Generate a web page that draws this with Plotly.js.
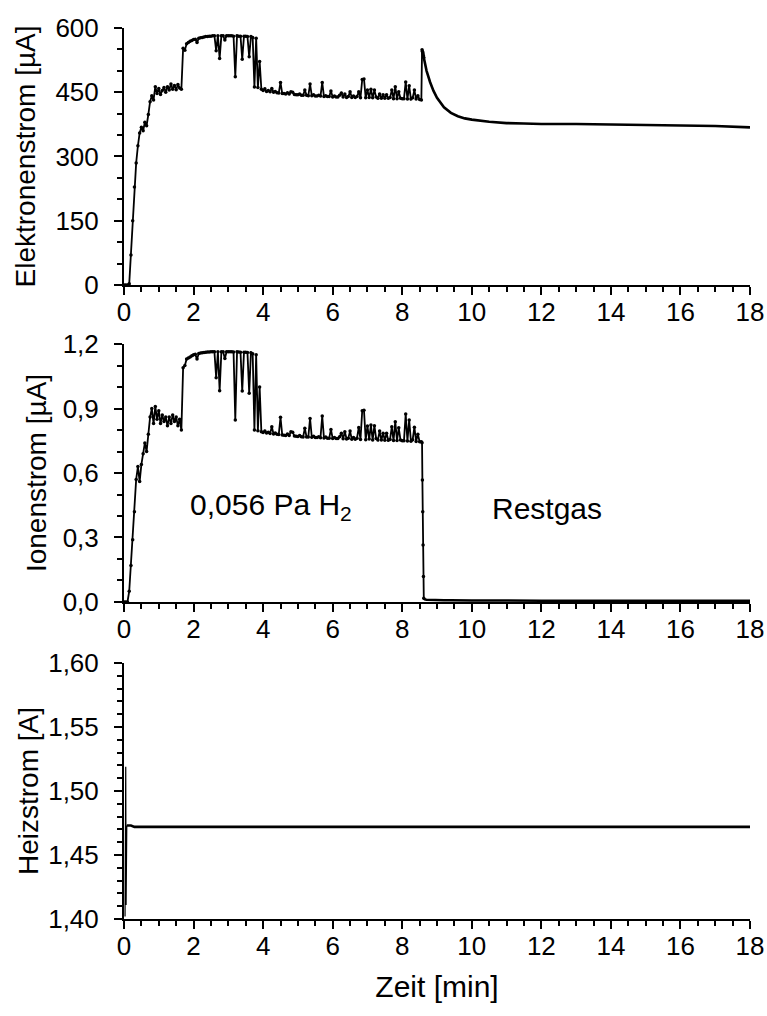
<!DOCTYPE html>
<html>
<head>
<meta charset="utf-8">
<script src="https://cdn.plot.ly/plotly-3.0.1.min.js"></script>
<style>body{margin:0;padding:0;background:#fff;} #chart{width:767px;height:1016px;}</style>
</head>
<body>
<div id="chart"></div>
<script>
// Zeit [min] (shared by Elektronenstrom and Ionenstrom)
const zeit = [
 0.00,0.05,0.10,0.15,0.20,0.25,0.30,0.35,0.40,0.45,0.50,0.55,0.60,0.65,0.70,0.75,0.80,0.85,0.90,0.95,
 1.00,1.05,1.10,1.15,1.20,1.25,1.30,1.35,1.40,1.45,1.50,1.55,1.60,1.65,1.70,1.75,1.80,1.85,1.90,1.95,
 2.00,2.05,2.10,2.15,2.20,2.25,2.30,2.35,2.40,2.45,2.50,2.55,2.60,2.65,2.70,2.75,2.80,2.85,2.90,2.95,
 3.00,3.05,3.10,3.15,3.20,3.25,3.30,3.35,3.40,3.45,3.50,3.55,3.60,3.65,3.70,3.75,3.80,3.85,3.90,3.95,
 4.00,4.05,4.10,4.15,4.20,4.25,4.30,4.35,4.40,4.45,4.50,4.55,4.60,4.65,4.70,4.75,4.80,4.85,4.90,4.95,
 5.00,5.05,5.10,5.15,5.20,5.25,5.30,5.35,5.40,5.45,5.50,5.55,5.60,5.65,5.70,5.75,5.80,5.85,5.90,5.95,
 6.00,6.05,6.10,6.15,6.20,6.25,6.30,6.35,6.40,6.45,6.50,6.55,6.60,6.65,6.70,6.75,6.80,6.85,6.90,6.95,
 7.00,7.05,7.10,7.15,7.20,7.25,7.30,7.35,7.40,7.45,7.50,7.55,7.60,7.65,7.70,7.75,7.80,7.85,7.90,7.95,
 8.00,8.05,8.10,8.15,8.20,8.25,8.30,8.35,8.40,8.45,8.50,8.55,
 8.57,8.58,8.59,8.60,8.61,8.62,8.65,8.70,8.80,8.90,9.00,9.20,9.40,9.60,9.80,
 10.0,10.5,11.0,11.5,12.0,13.0,14.0,15.0,16.0,17.0,18.0
];

// Elektronenstrom [µA]
const elektronenstrom = [
 0,0,0,3,70,150,229,285,325,355,368,360,380,372,398,428,442,432,463,447,
 459,445,454,461,450,463,455,469,457,466,456,468,460,457,553,548,563,566,569,571,
 573,574,566,576,577,578,579,580,580,581,581,582,582,547,582,529,582,582,572,582,
 582,582,582,581,486,582,581,581,527,581,581,580,533,580,578,462,576,461,522,457,
 454,458,452,454,451,459,450,452,449,448,473,447,447,446,449,446,451,450,445,444,
 444,446,443,443,455,443,442,469,442,444,441,441,443,441,473,440,442,440,440,453,
 439,441,439,439,443,448,439,446,438,440,451,438,441,438,440,451,437,480,481,437,
 455,438,457,437,455,439,436,446,436,444,436,444,436,438,455,435,463,435,451,436,
 435,435,474,434,465,434,437,455,434,442,433,432,
 549,546,543,539,535,531,518,500,474,453,437,415,402,394,389,
 386,381,378,377,376,376,375,374,373,371,368
];

// Ionenstrom [µA]
const ionenstrom = [
 0,0,0,0.05,0.17,0.29,0.42,0.57,0.63,0.56,0.64,0.69,0.74,0.70,0.78,0.86,0.90,0.83,0.91,0.85,
 0.89,0.83,0.87,0.84,0.86,0.82,0.86,0.83,0.87,0.84,0.86,0.82,0.85,0.80,1.09,1.10,1.13,1.135,1.14,1.145,
 1.15,1.152,1.13,1.156,1.158,1.16,1.161,1.162,1.163,1.163,1.164,1.164,1.164,1.043,1.164,0.983,1.164,1.164,1.133,1.164,
 1.164,1.164,1.164,1.163,0.847,1.164,1.163,1.162,0.981,1.162,1.162,1.161,0.971,1.16,1.155,0.80,1.15,0.797,1.00,0.792,
 0.788,0.796,0.786,0.79,0.784,0.815,0.782,0.786,0.78,0.779,0.859,0.777,0.776,0.775,0.781,0.774,0.792,0.79,0.772,0.771,
 0.770,0.775,0.769,0.768,0.808,0.767,0.767,0.854,0.766,0.771,0.765,0.765,0.769,0.764,0.865,0.763,0.767,0.762,0.762,0.803,
 0.761,0.765,0.760,0.760,0.769,0.785,0.759,0.792,0.758,0.762,0.795,0.757,0.765,0.757,0.762,0.812,0.756,0.890,0.892,0.755,
 0.819,0.758,0.823,0.754,0.82,0.76,0.753,0.795,0.753,0.785,0.752,0.785,0.752,0.756,0.815,0.751,0.839,0.751,0.81,0.754,
 0.750,0.750,0.874,0.749,0.847,0.748,0.755,0.813,0.747,0.78,0.746,0.745,
 0.741,0.567,0.42,0.265,0.118,0.017,0.012,0.010,0.009,0.009,0.008,0.008,0.008,0.007,0.007,
 0.007,0.007,0.006,0.006,0.006,0.006,0.006,0.006,0.006,0.006,0.006
];

// Heizstrom [A]
const zeitHeiz = [0.03,0.05,0.06,0.08,0.20,0.30,2,4,6,8,10,12,14,16,18];
const heizstrom = [1.402,1.519,1.411,1.473,1.473,1.472,1.472,1.472,1.472,1.472,1.472,1.472,1.472,1.472,1.472];

// Tick settings
const xTicks = [0,2,4,6,8,10,12,14,16,18];
const yTicks1 = [0,150,300,450,600];
const yTicks2 = [0,0.3,0.6,0.9,1.2];
const yTicks3 = [1.40,1.45,1.50,1.55,1.60];

// the measured part (with visible points) ends where the ion current has dropped
const cut = zeit.indexOf(8.62);
const dense = {mode:'lines+markers', line:{color:'black', width:1.8}, marker:{color:'black', size:3.5, opacity:1, line:{width:0}}};
const smooth = {mode:'lines', line:{color:'black', width:2.6}};

const traces = [
  Object.assign({x: zeit.slice(0, cut+1), y: elektronenstrom.slice(0, cut+1), xaxis:'x', yaxis:'y'}, dense),
  Object.assign({x: zeit.slice(cut), y: elektronenstrom.slice(cut), xaxis:'x', yaxis:'y'}, smooth),
  Object.assign({x: zeit.slice(0, cut+1), y: ionenstrom.slice(0, cut+1), xaxis:'x2', yaxis:'y2'}, dense),
  Object.assign({x: zeit.slice(cut), y: ionenstrom.slice(cut), xaxis:'x2', yaxis:'y2'}, smooth),
  {x: zeitHeiz.slice(0,4), y: heizstrom.slice(0,4), xaxis:'x3', yaxis:'y3', mode:'lines', line:{color:'black', width:1.2}},
  {x: zeitHeiz.slice(3), y: heizstrom.slice(3), xaxis:'x3', yaxis:'y3', mode:'lines', line:{color:'black', width:2.6}}
];

const fontFam = '"Liberation Sans", Arial, Helvetica, sans-serif';
const tickFont = {family: fontFam, size: 26, color:'black'};
const titleFont = {family: fontFam, size: 28, color:'black'};

function xAx(anchor, extra) {
  return Object.assign({
    anchor: anchor, domain:[0,1], range:[0,18], tickmode:'array', tickvals:xTicks,
    showline:true, linecolor:'black', linewidth:2, mirror:false,
    ticks:'outside', ticklen:8, tickwidth:2, tickcolor:'black',
    showgrid:false, zeroline:false, tickfont:tickFont, ticklabelstandoff:-5,
    minor:{dtick:0.5, ticks:'outside', ticklen:5, tickwidth:2, tickcolor:'black', showgrid:false}
  }, extra || {});
}
function yAx(anchor, domain, range, tickvals, minorDtick, fmt, title, standoff) {
  return {
    anchor: anchor, domain: domain, range: range, tickmode:'array', tickvals: tickvals, tickformat: fmt,
    showline:true, linecolor:'black', linewidth:2, mirror:false,
    ticks:'outside', ticklen:8, tickwidth:2, tickcolor:'black',
    showgrid:false, zeroline:false, tickfont:tickFont, ticklabelstandoff:10,
    minor:{dtick:minorDtick, tick0:range[0], ticks:'outside', ticklen:5, tickwidth:2, tickcolor:'black', showgrid:false},
    title:{text:title, font:titleFont, standoff:standoff}
  };
}

const layout = {
  width:767, height:1016,
  margin:{l:124, r:17, t:28, b:97},
  paper_bgcolor:'white', plot_bgcolor:'white',
  showlegend:false,
  separators:',.',
  font:{family:fontFam, color:'black'},
  xaxis: xAx('y'),
  xaxis2: xAx('y2'),
  xaxis3: xAx('y3', {title:{text:'Zeit [min]', font:{family:fontFam, size:30, color:'black'}, standoff:16}}),
  yaxis: yAx('x', [0.7116,1], [0,600], yTicks1, 50, 'd', 'Elektronenstrom [µA]', 12),
  yaxis2: yAx('x2', [0.3558,0.6453], [0,1.2], yTicks2, 0.1, '.1f', 'Ionenstrom [µA]', 8),
  yaxis3: yAx('x3', [0,0.2873], [1.40,1.60], yTicks3, 0.01, '.2f', 'Heizstrom [A]', 1),
  annotations:[
    {xref:'x2', yref:'y2', x:1.83, y:0.442, text:'0,056 Pa H<sub>2</sub>', showarrow:false, xanchor:'left', yanchor:'middle', font:{family:fontFam, size:30, color:'black'}},
    {xref:'x2', yref:'y2', x:10.52, y:0.437, text:'Restgas', showarrow:false, xanchor:'left', yanchor:'middle', font:{family:fontFam, size:30, color:'black'}}
  ]
};

Plotly.newPlot('chart', traces, layout, {staticPlot:true, displayModeBar:false});
</script>
</body>
</html>
